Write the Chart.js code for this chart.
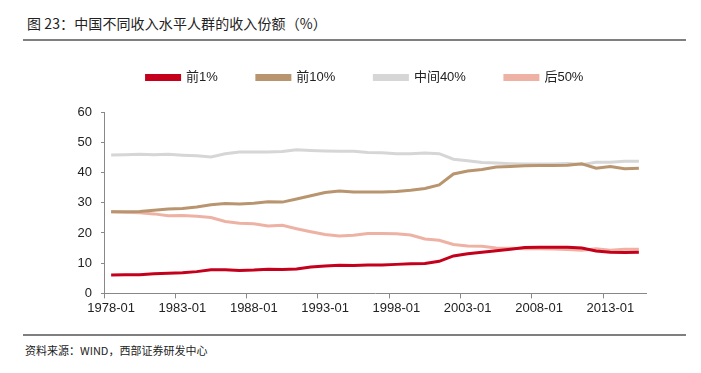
<!DOCTYPE html>
<html>
<head>
<meta charset="utf-8">
<script src="https://cdn.jsdelivr.net/npm/chart.js@4"></script>
<style>
  body { margin: 0; background: #fff; width: 701px; height: 373px; position: relative; overflow: hidden; }
  .title { position: absolute; left: 27px; top: 13px; font: 14px "Noto Sans CJK SC", sans-serif; color: #222; letter-spacing: 0.1px; }
  .rule { position: absolute; left: 23px; width: 663px; height: 2px; background: #7f7f7f; }
  .source { position: absolute; left: 25px; top: 342px; font: 11px "Noto Sans CJK SC", sans-serif; color: #222; }
  .wrap { position: absolute; left: 0; top: 20px; width: 701px; height: 310px; }
</style>
</head>
<body>
<div class="title">图 23：中国不同收入水平人群的收入份额（%）</div>
<div class="rule" style="top:39px"></div>
<div class="wrap"><canvas id="c" width="701" height="310"></canvas></div>
<div class="rule" style="top:334px"></div>
<div class="source">资料来源：WIND，西部证券研发中心</div>
<script>
const years = [
  "1978-01", "1979-01", "1980-01", "1981-01", "1982-01", "1983-01", "1984-01", "1985-01",
  "1986-01", "1987-01", "1988-01", "1989-01", "1990-01", "1991-01", "1992-01", "1993-01",
  "1994-01", "1995-01", "1996-01", "1997-01", "1998-01", "1999-01", "2000-01", "2001-01",
  "2002-01", "2003-01", "2004-01", "2005-01", "2006-01", "2007-01", "2008-01", "2009-01",
  "2010-01", "2011-01", "2012-01", "2013-01", "2014-01", "2015-01"
];
const seriesNames = ["前1%", "前10%", "中间40%", "后50%"];

const top1 = [6.1, 6.2, 6.2, 6.5, 6.7, 6.8, 7.2, 7.8, 7.8, 7.6, 7.7, 8.0, 7.9, 8.1, 8.7, 9.1, 9.3, 9.2, 9.4,
  9.4, 9.6, 9.8, 9.9, 10.6, 12.4, 13.1, 13.6, 14.1, 14.6, 15.2, 15.3, 15.3, 15.3, 15.0, 14.0, 13.6, 13.5, 13.6];
const top10 = [27.0, 27.0, 27.1, 27.5, 27.9, 28.1, 28.6, 29.3, 29.7, 29.6, 29.8, 30.3, 30.2, 31.2, 32.3, 33.4,
  33.9, 33.5, 33.5, 33.5, 33.7, 34.1, 34.7, 35.9, 39.5, 40.5, 41.0, 41.8, 42.0, 42.2, 42.3, 42.3, 42.4, 42.9,
  41.4, 42.0, 41.2, 41.4];
const middle40 = [45.8, 45.9, 46.0, 45.9, 46.0, 45.7, 45.5, 45.1, 46.2, 46.8, 46.8, 46.8, 46.9, 47.5, 47.3,
  47.1, 47.0, 47.0, 46.6, 46.5, 46.2, 46.2, 46.4, 46.2, 44.4, 43.9, 43.3, 43.1, 42.9, 42.8, 42.8, 42.8, 43.0,
  42.6, 43.4, 43.4, 43.7, 43.7];
const bottom50 = [27.0, 26.8, 26.7, 26.3, 25.7, 25.8, 25.5, 25.1, 23.8, 23.2, 23.0, 22.3, 22.5, 21.4, 20.4,
  19.5, 19.0, 19.2, 19.8, 19.8, 19.7, 19.3, 18.0, 17.6, 16.2, 15.7, 15.6, 15.0, 14.9, 14.8, 14.8, 14.7, 14.5,
  14.3, 14.8, 14.3, 14.6, 14.6];
const yTicks = [0, 10, 20, 30, 40, 50, 60];

const colors = ["#c4001c", "#b9956f", "#d6d6d6", "#eeb2a5"];
const values = [top1, top10, middle40, bottom50];

const numFont = { family: "'Liberation Sans', Arial, sans-serif", size: 13 };

// extra room under the legend, and nudge it a bit to the right
const legendGap = {
  id: "legendGap",
  beforeInit(chart) {
    const fit = chart.legend.fit;
    chart.legend.fit = function () {
      fit.call(this);
      this.height += 18;
    };
  },
  afterLayout(chart) {
    chart.legend.left += 10;
    chart.legend.right += 10;
  },
};

new Chart(document.getElementById("c"), {
  type: "line",
  data: {
    labels: years,
    datasets: seriesNames.map((name, i) => ({
      label: name,
      data: values[i],
      borderColor: colors[i],
      backgroundColor: colors[i],
      borderWidth: 3,
      pointRadius: 0,
      tension: 0,
    })),
  },
  plugins: [legendGap],
  options: {
    responsive: false,
    animation: false,
    layout: { padding: { left: 64, right: 55, top: 12, bottom: 12 } },
    plugins: {
      legend: {
        position: "top",
        labels: {
          boxWidth: 33,
          boxHeight: 4,
          padding: 39,
          color: "#222",
          font: { family: "'Liberation Sans', 'Noto Sans CJK SC', sans-serif", size: 13 },
        },
      },
      tooltip: { enabled: false },
    },
    scales: {
      x: {
        offset: true,
        grid: {
          offset: true,
          drawOnChartArea: false,
          tickLength: 5,
          color: (ctx) => (ctx.index % 5 === 0 ? "#888" : "rgba(0,0,0,0)"),
        },
        border: { color: "#888", width: 1 },
        ticks: {
          autoSkip: false,
          maxRotation: 0,
          color: "#222",
          font: numFont,
          padding: 2,
          callback: (v, i) => (i % 5 === 0 ? years[i] : ""),
        },
      },
      y: {
        min: 0,
        max: 60,
        afterFit: (s) => { s.width = 40; },
        afterBuildTicks: (s) => { s.ticks = yTicks.map((v) => ({ value: v })); },
        grid: { drawOnChartArea: false, tickLength: 3, color: "#888" },
        border: { color: "#888", width: 1 },
        ticks: { color: "#222", font: numFont, padding: 9 },
      },
    },
  },
});
</script>
</body>
</html>
